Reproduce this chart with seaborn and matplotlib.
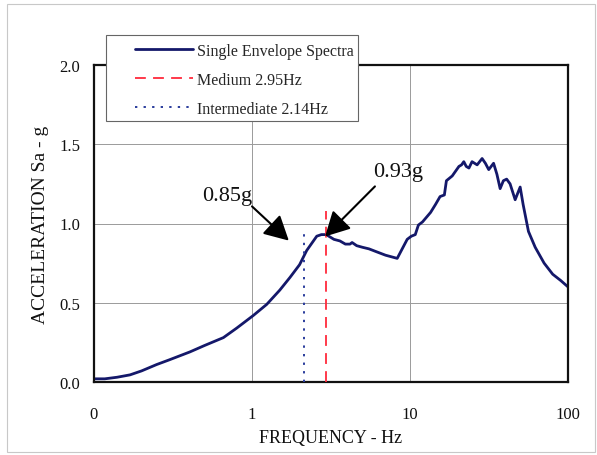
import matplotlib
matplotlib.use("Agg")
import matplotlib.pyplot as plt
import matplotlib.patches as mpatches
import seaborn as sns
import pandas as pd

# Envelope spectrum (frequency in Hz, spectral acceleration in g)
freq_hz = [0.10, 0.117, 0.14, 0.169, 0.20, 0.249, 0.30, 0.405, 0.50, 0.659,
           0.80, 1.02, 1.24, 1.50, 1.74, 2.0, 2.22, 2.57, 2.75, 2.95,
           3.3, 3.6, 3.9, 4.17, 4.3, 4.6, 5.0, 5.5, 6.2, 7.0,
           8.3, 9.6, 10.2, 10.8, 11.3, 12.0, 13.5, 14.5, 15.5, 16.5,
           17.0, 18.5, 20.4, 21.2, 21.9, 22.7, 23.6, 24.7, 26.6, 28.6,
           30.0, 31.5, 33.8, 35.5, 37.2, 39.0, 40.9, 43.0, 46.3, 49.8,
           52.0, 56.2, 62.0, 70.6, 80.0, 90.0, 100.0]
accel_g = [0.02, 0.02, 0.03, 0.045, 0.07, 0.11, 0.14, 0.19, 0.23, 0.28,
           0.34, 0.42, 0.49, 0.58, 0.66, 0.74, 0.83, 0.92, 0.93, 0.93,
           0.90, 0.89, 0.87, 0.87, 0.88, 0.86, 0.85, 0.84, 0.82, 0.80,
           0.78, 0.90, 0.92, 0.93, 0.99, 1.01, 1.07, 1.12, 1.17, 1.18,
           1.27, 1.30, 1.36, 1.37, 1.39, 1.36, 1.35, 1.39, 1.37, 1.41,
           1.38, 1.34, 1.38, 1.31, 1.22, 1.27, 1.28, 1.25, 1.15, 1.23,
           1.12, 0.95, 0.85, 0.75, 0.68, 0.64, 0.60]

# Reference frequencies and their labelled accelerations
medium_freq, medium_acc = 2.95, 0.93
intermediate_freq, intermediate_acc = 2.14, 0.85
medium_line_top = 1.08
intermediate_line_top = 0.97

x_ticks = [0.1, 1, 10, 100]
x_ticklabels = ["0", "1", "10", "100"]
y_ticks = [0.0, 0.5, 1.0, 1.5, 2.0]

sns.set_theme(style="white")
plt.rcParams["font.family"] = ["Liberation Serif", "DejaVu Serif"]

W, H = 597, 456
fig = plt.figure(figsize=(W / 100, H / 100), dpi=100)
ax = fig.add_axes([94 / W, 1 - 383 / H, (568 - 94) / W, (383 - 66) / H])

df = pd.DataFrame({"Frequency": freq_hz, "Acceleration": accel_g})
sns.lineplot(data=df, x="Frequency", y="Acceleration", ax=ax,
             color="#14186a", linewidth=2.0, label="Single Envelope Spectra",
             sort=False)
ax.vlines([medium_freq], 0, medium_line_top, colors="#ff2a3c",
          linestyles=(0, (6, 4)), linewidth=1.3, label="Medium 2.95Hz", zorder=3)
ax.vlines([intermediate_freq], 0, intermediate_line_top, colors="#2a3c9c",
          linestyles=(0, (1.2, 3.2)), linewidth=1.4,
          label="Intermediate 2.14Hz", zorder=3)

ax.set_xscale("log")
ax.set_xlim(0.1, 100)
ax.set_ylim(0, 2.0)
ax.set_xticks(x_ticks)
ax.set_xticklabels(x_ticklabels)
ax.minorticks_off()
ax.set_yticks(y_ticks)
ax.set_yticklabels([f"{v:.1f}" for v in y_ticks])
ax.tick_params(axis="x", length=0, pad=17.5, labelsize=12, colors="#111111")
ax.tick_params(axis="y", length=0, pad=10, labelsize=12, colors="#111111")
ax.grid(True, which="major", color="#9a9a9a", linewidth=0.7)
for s in ax.spines.values():
    s.set_visible(True)
    s.set_color("#111111")
    s.set_linewidth(1.6)

ax.set_xlabel("FREQUENCY - Hz", fontsize=13, labelpad=5, color="#111111")
ax.set_ylabel("ACCELERATION Sa - g", fontsize=14, labelpad=7, color="#111111")

# Value callouts with filled arrow heads
arrow_style = dict(arrowstyle="-|>,head_length=0.75,head_width=0.4",
                   mutation_scale=20, color="black", lw=1.5,
                   shrinkA=0, shrinkB=0)
ax.text(0.695, 1.146, f"{intermediate_acc:.2f}g", fontsize=16,
        ha="center", va="baseline", color="#111111")
ax.annotate("", xy=(1.71, 0.892), xytext=(1.0, 1.108), arrowprops=arrow_style)
ax.text(8.4, 1.297, f"{medium_acc:.2f}g", fontsize=16,
        ha="center", va="baseline", color="#111111")
ax.annotate("", xy=(2.90, 0.918), xytext=(6.0, 1.234), arrowprops=arrow_style)

# Legend: entries placed inside a separately drawn box
ax.add_patch(mpatches.Rectangle((106 / W, 1 - 122 / H), 252 / W, 86 / H,
                                transform=fig.transFigure, facecolor="white",
                                edgecolor="#666666", linewidth=0.8,
                                clip_on=False, zorder=9))
leg = ax.legend(loc="upper left", bbox_to_anchor=(135 / W, 1 - 44 / H),
                bbox_transform=fig.transFigure, fontsize=11.5, frameon=False,
                handlelength=3.6, handletextpad=0.3, labelspacing=0.8,
                borderpad=0, borderaxespad=0)
leg.set_zorder(10)

# Thin frame around the whole chart area
fig.patches.append(mpatches.Rectangle((7 / W, 3 / H), 588 / W, 448 / H,
                                      transform=fig.transFigure, fill=False,
                                      edgecolor="#c8c8c8", linewidth=0.8))

fig.savefig("out.png", dpi=100)
